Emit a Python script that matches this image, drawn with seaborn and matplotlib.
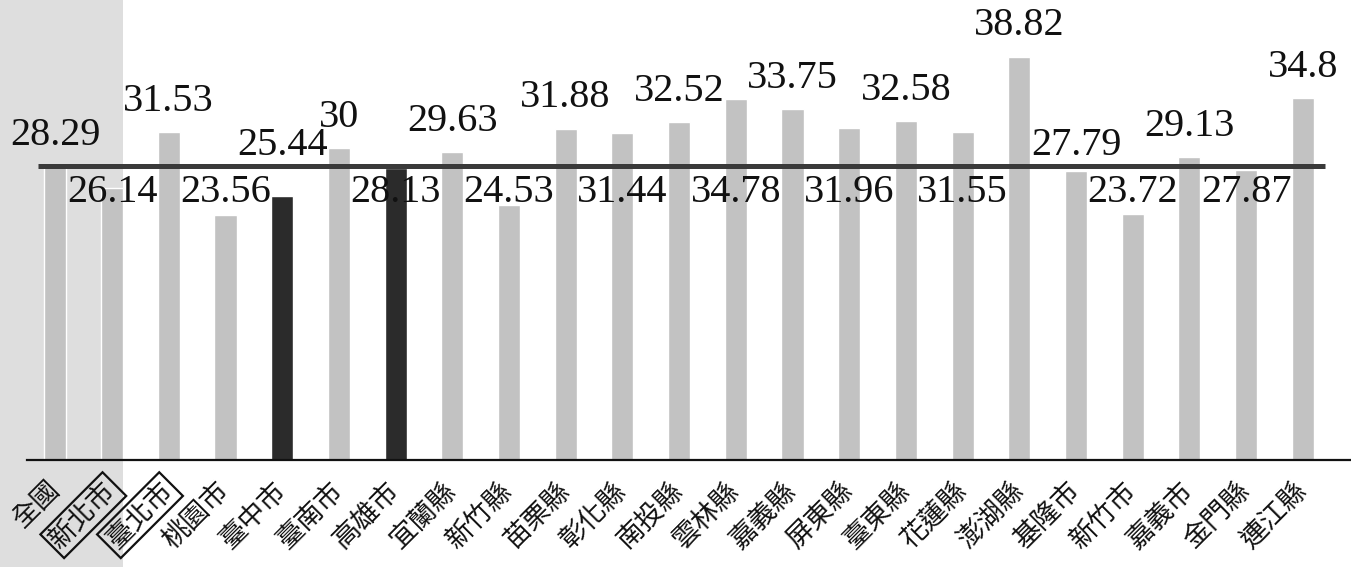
import matplotlib
matplotlib.use("Agg")
import matplotlib.pyplot as plt
from matplotlib.patches import Rectangle
import seaborn as sns
import pandas as pd

# 各縣市數值（全國為平均）
regions = ['全國', '新北市', '臺北市', '桃園市', '臺中市', '臺南市', '高雄市',
           '宜蘭縣', '新竹縣', '苗栗縣', '彰化縣', '南投縣', '雲林縣', '嘉義縣',
           '屏東縣', '臺東縣', '花蓮縣', '澎湖縣', '基隆市', '新竹市', '嘉義市',
           '金門縣', '連江縣']
values = [28.29, 26.14, 31.53, 23.56, 25.44, 30, 28.13,
          29.63, 24.53, 31.88, 31.44, 32.52, 34.78, 33.75,
          31.96, 32.58, 31.55, 38.82, 27.79, 23.72, 29.13,
          27.87, 34.8]
national_avg = 28.29
highlighted = ['臺中市', '高雄市']
boxed = ['新北市', '臺北市']
# 數值標籤放在平均線之上或之下
label_side = ['up', 'down', 'up', 'down', 'up', 'up', 'down',
              'up', 'down', 'up', 'down', 'up', 'down', 'up',
              'down', 'up', 'down', 'up', 'up', 'down', 'up',
              'down', 'up']

LIGHT = '#c2c2c2'
DARK = '#2b2b2b'

sns.set_theme(style='white')
plt.rcParams['font.family'] = ['Noto Sans CJK TC', 'DejaVu Sans']

df = pd.DataFrame({'region': regions, 'value': values})
palette = {r: (DARK if r in highlighted else LIGHT) for r in regions}

fig = plt.figure(figsize=(13.51, 5.67), dpi=100)
ax = fig.add_axes([0.02, 0.1887, 0.98, 0.8113])
ax.set_facecolor('none')

# 左側陰影區
fig.patches.append(Rectangle((0, 0), 123 / 1351, 1, transform=fig.transFigure,
                             facecolor='#dedede', edgecolor='none', zorder=-5))

sns.barplot(data=df, x='region', y='value', hue='region', palette=palette,
            legend=False, width=0.39, saturation=1, ax=ax, zorder=2)

ax.set_xlim(-0.5, 22.85)
ax.set_ylim(0, 44.27)

# 全國平均線
ax.hlines(national_avg, -0.3, 22.4, color='#3a3a3a', linewidth=3.6, zorder=4)

# 數值標籤
for i, (v, side) in enumerate(zip(values, label_side)):
    txt = f'{v:g}'
    if side == 'up':
        y = v + 1.2 if v >= national_avg else national_avg + 0.2
        va = 'bottom'
    else:
        y = national_avg - 0.8
        va = 'top'
    ax.text(i, y, txt, ha='center', va=va, fontsize=29,
            family='Liberation Serif', color='#111111', zorder=3)

# 座標軸
sns.despine(ax=ax, left=True, top=True, right=True)
ax.spines['bottom'].set_color('#111111')
ax.spines['bottom'].set_linewidth(1.6)
ax.set_yticks([])
ax.set_xlabel('')
ax.set_ylabel('')
ax.tick_params(axis='x', length=0, pad=19)
ax.set_xticks(range(len(regions)))
ax.set_xticklabels(regions, rotation=45, ha='right', va='center',
                   rotation_mode='anchor', fontsize=19.5, color='#111111')
for lab in ax.get_xticklabels():
    if lab.get_text() in boxed:
        lab.set_bbox(dict(boxstyle='square,pad=0.12', facecolor='none',
                          edgecolor='#111111', linewidth=1.6))

fig.savefig('out.png', dpi=100)
